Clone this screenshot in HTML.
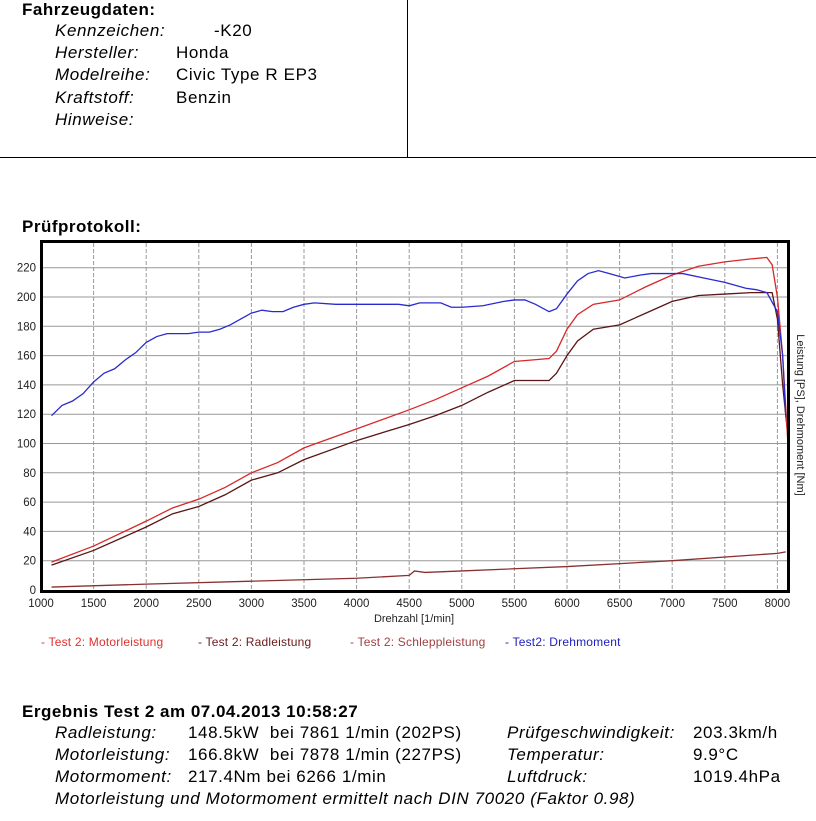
<!DOCTYPE html>
<html><head><meta charset="utf-8">
<style>
body{margin:0;width:816px;height:821px;background:#fff;font-family:"Liberation Sans",sans-serif;position:relative;overflow:hidden;color:#000}
.a{position:absolute;white-space:nowrap}
.b{font-weight:bold;font-size:17px;letter-spacing:0.5px}
.t{font-size:17px;letter-spacing:0.6px}
.i{font-style:italic}
</style></head><body>
<div class="a b" style="left:22px;top:0px">Fahrzeugdaten:</div>
<div class="a t i" style="left:55px;top:21px">Kennzeichen:</div>
<div class="a t" style="left:214px;top:21px">-K20</div>
<div class="a t i" style="left:55px;top:43px">Hersteller:</div>
<div class="a t" style="left:176px;top:43px">Honda</div>
<div class="a t i" style="left:55px;top:65px">Modelreihe:</div>
<div class="a t" style="left:176px;top:65px">Civic Type R EP3</div>
<div class="a t i" style="left:55px;top:88px">Kraftstoff:</div>
<div class="a t" style="left:176px;top:88px">Benzin</div>
<div class="a t i" style="left:55px;top:110px">Hinweise:</div>
<div class="a" style="left:0;top:157px;width:816px;height:1px;background:#000"></div>
<div class="a" style="left:407px;top:0;width:1px;height:157px;background:#000"></div>
<div class="a b" style="left:22px;top:217px">Prüfprotokoll:</div>

<svg class="a" style="left:0;top:0" width="816" height="821">
<g id="grid"></g>
<g id="series"></g>
<rect x="41.5" y="241.5" width="747" height="350" fill="none" stroke="#000" stroke-width="3"/>
<g id="ticks" font-family="Liberation Sans" font-size="11.5" fill="#222"></g>
<text x="414" y="622" font-family="Liberation Sans" font-size="11" text-anchor="middle" fill="#222">Drehzahl [1/min]</text>
<text transform="translate(797,415) rotate(90)" font-family="Liberation Sans" font-size="11" text-anchor="middle" fill="#222">Leistung [PS], Drehmoment [Nm]</text>
<g font-family="Liberation Sans" font-size="12" letter-spacing="0.2">
<text x="41" y="646" fill="#e03030">- Test 2: Motorleistung</text>
<text x="198" y="646" fill="#6a1a1a">- Test 2: Radleistung</text>
<text x="350" y="646" fill="#a04040">- Test 2: Schleppleistung</text>
<text x="505" y="646" fill="#2020c0">- Test2: Drehmoment</text>
</g>
</svg>

<div class="a b" style="left:22px;top:702px">Ergebnis Test 2 am 07.04.2013 10:58:27</div>
<div class="a t i" style="left:55px;top:723px">Radleistung:</div>
<div class="a t" style="left:188px;top:723px">148.5kW&nbsp; bei 7861 1/min (202PS)</div>
<div class="a t i" style="left:55px;top:745px">Motorleistung:</div>
<div class="a t" style="left:188px;top:745px">166.8kW&nbsp; bei 7878 1/min (227PS)</div>
<div class="a t i" style="left:55px;top:767px">Motormoment:</div>
<div class="a t" style="left:188px;top:767px">217.4Nm bei 6266 1/min</div>
<div class="a t i" style="left:55px;top:789px">Motorleistung und Motormoment ermittelt nach DIN 70020 (Faktor 0.98)</div>
<div class="a t i" style="left:507px;top:723px">Prüfgeschwindigkeit:</div>
<div class="a t" style="left:693px;top:723px">203.3km/h</div>
<div class="a t i" style="left:507px;top:745px">Temperatur:</div>
<div class="a t" style="left:693px;top:745px">9.9°C</div>
<div class="a t i" style="left:507px;top:767px">Luftdruck:</div>
<div class="a t" style="left:693px;top:767px">1019.4hPa</div>

<script>
const xTicks=[1000,1500,2000,2500,3000,3500,4000,4500,5000,5500,6000,6500,7000,7500,8000];
const yTicks=[0,20,40,60,80,100,120,140,160,180,200,220];
const torqueRpm=[1100,1200,1300,1400,1500,1600,1700,1800,1900,2000,2100,2200,2300,2400,2500,2600,2700,2800,2900,3000,3100,3200,3300,3400,3500,3600,3800,4000,4200,4400,4500,4600,4800,4900,5000,5200,5400,5500,5600,5700,5830,5900,6000,6100,6200,6300,6400,6550,6700,6800,7000,7100,7300,7500,7700,7800,7900,8000,8050,8080];
const torqueVals=[119,126,129,134,142,148,151,157,162,169,173,175,175,175,176,176,178,181,185,189,191,190,190,193,195,196,195,195,195,195,194,196,196,193,193,194,197,198,198,195,190,192,202,211,216,218,216,213,215,216,216,216,213,210,206,205,203,190,160,118];
const powerRpm=[1100,1500,2000,2250,2500,2750,3000,3250,3500,4000,4500,4750,5000,5250,5500,5830,5900,6000,6100,6250,6500,6750,7000,7250,7500,7750,7900,7950,8000,8050,8100];
const motorVals=[19,30,47,56,62,70,80,87,97,110,123,130,138,146,156,158,163,178,188,195,198,207,215,221,224,226,227,222,200,160,100];
const radVals=[17,27,43,52,57,65,75,80,89,102,113,119,126,135,143,143,148,160,170,178,181,189,197,201,202,203,203,203,185,140,105];
const schleppRpm=[1100,2000,3000,4000,4500,4550,4650,5000,6000,7000,8000,8080];
const schleppVals=[2,4,6,8,10,13,12,13,16,20,25,26];

const X=v=>41+(v-1000)*52.6/500;
const Y=v=>590-v*29.3/20;
const ns="http://www.w3.org/2000/svg";
const grid=document.getElementById('grid'),ticks=document.getElementById('ticks'),ser=document.getElementById('series');
function mk(tag,attrs,parent){const e=document.createElementNS(ns,tag);for(const k in attrs)e.setAttribute(k,attrs[k]);parent.appendChild(e);return e;}
xTicks.forEach(t=>{
  if(t>1000){const l=mk('line',{x1:X(t),x2:X(t),y1:243,y2:590,stroke:'#999','stroke-dasharray':'4,2'},grid);
  
  }
  const tx=mk('text',{x:X(t),y:607,'text-anchor':'middle'},ticks);tx.textContent=t;
  
  
});
yTicks.forEach(t=>{
  if(t>0){const l=mk('line',{x1:43,x2:787,y1:Y(t),y2:Y(t),stroke:'#999'},grid);
  
  }
  const tx=mk('text',{x:36,y:Y(t)+4,'text-anchor':'end'},ticks);tx.textContent=t;
  
  
});
function line(xs,ys,color,name){
  const p=mk('polyline',{points:xs.map((x,i)=>X(x)+','+Y(ys[i])).join(' '),fill:'none',stroke:color,'stroke-width':1.3},ser);
  
  
}
line(schleppRpm,schleppVals,'#8a3030','line-schleppleistung');
line(powerRpm,radVals,'#5a1515','line-radleistung');
line(powerRpm,motorVals,'#d82828','line-motorleistung');
line(torqueRpm,torqueVals,'#2a2ad0','line-drehmoment');
</script>
</body></html>
